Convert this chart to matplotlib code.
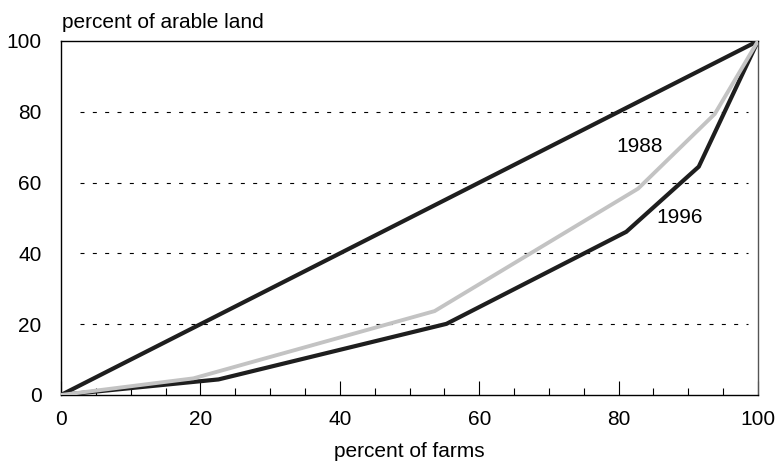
import numpy as np
import matplotlib
matplotlib.use('Agg')
import matplotlib.pyplot as plt

# Lorenz-style curves: percent of farms vs percent of arable land
EQUALITY_X = [0, 100]
EQUALITY_Y = [0, 100]

FARMS_1988 = [0, 19.0, 53.6, 82.8, 93.8, 100]
LAND_1988 = [0, 4.7, 23.7, 58.3, 79.4, 100]

FARMS_1996 = [0, 22.6, 55.3, 81.1, 91.5, 100]
LAND_1996 = [0, 4.4, 20.1, 46.1, 64.5, 100]

GRID_LEVELS = [20, 40, 60, 80]
X_TICKS = [0, 20, 40, 60, 80, 100]
Y_TICKS = [0, 20, 40, 60, 80, 100]

plt.rcParams['font.family'] = ['Liberation Sans', 'DejaVu Sans']
FS = 15

fig = plt.figure(figsize=(7.78, 4.62), dpi=100)
ax = fig.add_axes([61 / 778, 1 - 395 / 462, 697 / 778, 354 / 462])

# dashed horizontal gridlines
ax.hlines(GRID_LEVELS, 2.7, 98.6, colors="black", linewidth=0.8,
          linestyles=(0, (3.6, 7.5)), zorder=1)

ax.plot(EQUALITY_X, EQUALITY_Y, color="#1e1e1e", linewidth=3.0, zorder=3,
        solid_capstyle="butt")
ax.plot(FARMS_1996, LAND_1996, color="#1e1e1e", linewidth=3.0, zorder=3,
        solid_joinstyle="miter")
ax.plot(FARMS_1988, LAND_1988, color="#c3c3c3", linewidth=2.8, zorder=4,
        solid_joinstyle="miter")

ax.text(83, 70.3, "1988", fontsize=FS, ha="center", va="center")
ax.text(88.7, 50, "1996", fontsize=FS, ha="center", va="center")

ax.set_xlim(0, 100)
ax.set_ylim(0, 100)

ax.set_xticks(X_TICKS)
ax.set_xticks(np.arange(0, 101, 5), minor=True)
ax.set_yticks(Y_TICKS)
ax.tick_params(axis="x", which="major", direction="in", length=10, width=0.8,
               labelsize=FS, pad=11)
ax.tick_params(axis="x", which="minor", direction="in", length=5, width=0.8)
ax.tick_params(axis="y", length=0, labelsize=FS, pad=14)

for side in ["top", "right", "left", "bottom"]:
    ax.spines[side].set_linewidth(1.0)
ax.spines["right"].set_color("#555555")

fig.text(62 / 778, 1 - 22 / 462, "percent of arable land", fontsize=FS,
         ha="left", va="center")
fig.text(409 / 778, 1 - 457 / 462, "percent of farms", fontsize=FS,
         ha="center", va="baseline")

fig.savefig("out.png", dpi=100)
plt.close(fig)
